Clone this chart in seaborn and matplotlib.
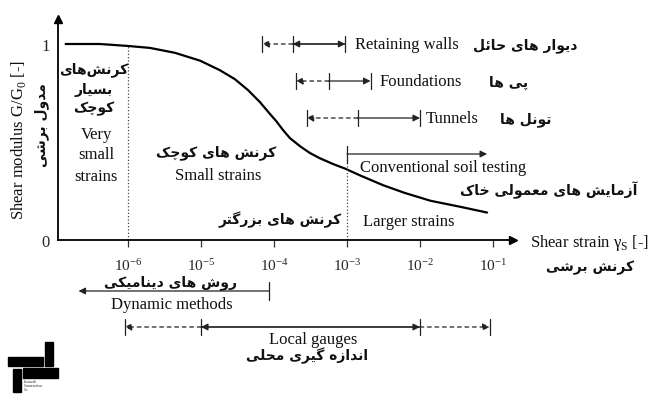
import numpy as np
import pandas as pd
import matplotlib.pyplot as plt
import seaborn as sns
from matplotlib.patches import Rectangle

# Degradation curve
strain = [1.4e-7, 4.1e-7, 1e-6, 2e-6, 4.4e-6, 9.7e-6, 1.8e-5, 2.9e-5, 4.4e-5,
          6.4e-5, 8.8e-5, 1.07e-4, 1.33e-4, 1.65e-4, 2.3e-4, 3.1e-4, 4.2e-4,
          6.4e-4, 9.3e-4, 1.5e-3, 3.1e-3, 6.2e-3, 1.4e-2, 3.5e-2, 8.3e-2]
modulus = [1.00, 1.00, 0.99, 0.98, 0.955, 0.915, 0.867, 0.821, 0.765,
           0.704, 0.643, 0.607, 0.561, 0.520, 0.477, 0.444, 0.418,
           0.388, 0.365, 0.33, 0.28, 0.24, 0.20, 0.17, 0.14]

xtick_values = [1e-6, 1e-5, 1e-4, 1e-3, 1e-2, 1e-1]
xtick_labels = ['$\\mathregular{10^{-6}}$', '$\\mathregular{10^{-5}}$', '$\\mathregular{10^{-4}}$',
                '$\\mathregular{10^{-3}}$', '$\\mathregular{10^{-2}}$', '$\\mathregular{10^{-1}}$']

# Application ranges: dashed start, solid start, end
app_names = ['Retaining walls', 'Foundations', 'Tunnels']
app_names_fa = ['دیوار های حائل', 'پی ها', 'تونل ها']
app_dashed_from = [6.9e-5, 2.0e-4, 2.8e-4]
app_solid_from = [1.8e-4, 5.6e-4, 1.4e-3]
app_to = [9.5e-4, 2.1e-3, 1.0e-2]

conventional_range = [1e-3, 8.3e-2]
dynamic_range = [2.1e-7, 8.5e-5]
local_gauges_range = [9e-7, 1e-5, 1e-2, 9e-2]

sns.set_style('white')
plt.rcParams['font.family'] = ['Liberation Serif', 'DejaVu Sans']

# Minimal Persian shaping (presentation forms, right-to-left)
FORMS = {
    '\u0627': (0xFE8D, 0xFE8E), '\u0622': (0xFE81, 0xFE82), '\u062F': (0xFEA9, 0xFEAA),
    '\u0631': (0xFEAD, 0xFEAE), '\u0632': (0xFEAF, 0xFEB0), '\u0648': (0xFEED, 0xFEEE),
    '\u0628': (0xFE8F, 0xFE90, 0xFE91, 0xFE92), '\u067E': (0xFB56, 0xFB57, 0xFB58, 0xFB59),
    '\u062A': (0xFE95, 0xFE96, 0xFE97, 0xFE98), '\u062D': (0xFEA1, 0xFEA2, 0xFEA3, 0xFEA4),
    '\u062E': (0xFEA5, 0xFEA6, 0xFEA7, 0xFEA8), '\u0686': (0xFB7A, 0xFB7B, 0xFB7C, 0xFB7D),
    '\u0633': (0xFEB1, 0xFEB2, 0xFEB3, 0xFEB4), '\u0634': (0xFEB5, 0xFEB6, 0xFEB7, 0xFEB8),
    '\u0639': (0xFEC9, 0xFECA, 0xFECB, 0xFECC), '\u06A9': (0xFB8E, 0xFB8F, 0xFB90, 0xFB91),
    '\u06AF': (0xFB92, 0xFB93, 0xFB94, 0xFB95), '\u0644': (0xFEDD, 0xFEDE, 0xFEDF, 0xFEE0),
    '\u0645': (0xFEE1, 0xFEE2, 0xFEE3, 0xFEE4), '\u0646': (0xFEE5, 0xFEE6, 0xFEE7, 0xFEE8),
    '\u0647': (0xFEE9, 0xFEEA, 0xFEEB, 0xFEEC), '\u06CC': (0xFBFC, 0xFBFD, 0xFBFE, 0xFBFF),
    '\u0626': (0xFE89, 0xFE8A, 0xFE8B, 0xFE8C),
}


def fa(s):
    s = s.replace('\u064A', '\u06CC').replace('\u0643', '\u06A9')
    out = []
    for i, c in enumerate(s):
        if c == '\u200c':
            continue
        if c not in FORMS:
            out.append(c)
            continue
        f = FORMS[c]
        prev = s[i - 1] if i > 0 else ''
        nxt = s[i + 1] if i < len(s) - 1 else ''
        jp = prev in FORMS and len(FORMS[prev]) == 4
        jn = len(f) == 4 and nxt in FORMS
        if jp and jn:
            g = f[3]
        elif jp:
            g = f[1]
        elif jn:
            g = f[2]
        else:
            g = f[0]
        out.append(chr(g))
    return ''.join(reversed(out))


W, H = 650, 406
fig = plt.figure(figsize=(6.5, 4.06), dpi=100)
ax = fig.add_axes([58 / W, 165 / H, (513 - 58) / W, 221 / H])


def px(x, y):
    return x / W, 1 - y / H


def yv(y):
    return (241 - y) / 196


EN = dict(family='Liberation Serif', fontsize=12, color='#111111')
FA = dict(family='DejaVu Sans', fontweight='bold', fontsize=10, color='#111111')

df = pd.DataFrame({'strain': strain, 'modulus': modulus})
sns.lineplot(data=df, x='strain', y='modulus', ax=ax, color='black', lw=1.6,
             estimator=None, sort=False)
ax.set_xscale('log')
ax.set_xlim(10 ** -6.959, 10 ** -0.726)
ax.set_ylim(0, 221 / 196)
ax.set_xlabel('')
ax.set_ylabel('')
for s in ['top', 'right']:
    ax.spines[s].set_visible(False)
for s in ['left', 'bottom']:
    ax.spines[s].set_linewidth(1.3)
    ax.spines[s].set_color('black')
ax.plot(1, 0, '>', color='black', ms=6, transform=ax.transAxes, clip_on=False)
ax.plot(0, 1, '^', color='black', ms=6, transform=ax.transAxes, clip_on=False)

ax.set_xticks(xtick_values)
ax.set_xticklabels(xtick_labels, fontsize=11)
ax.xaxis.set_minor_locator(plt.NullLocator())
ax.tick_params(axis='x', direction='out', length=5, width=0.9, color='#333333', pad=7,
               bottom=True)
ax.set_yticks([0, 1])
ax.set_yticklabels(['0', '1'], fontsize=12)
ax.tick_params(axis='y', length=0, pad=6)

# dotted guides
ax.plot([1e-6, 1e-6], [0, 0.99], ls=':', color='#444444', lw=0.9)
ax.plot([1e-3, 1e-3], [0, 0.41], ls=':', color='#444444', lw=0.9)

LW = 0.9
AC = '#222222'


def arrow(x1, x2, y, ls='-'):
    ax.annotate('', xy=(x2, y), xytext=(x1, y), xycoords='data', annotation_clip=False,
                arrowprops=dict(arrowstyle='-|>', lw=LW, color=AC, ls=ls,
                                shrinkA=0, shrinkB=0, mutation_scale=10))


def bar(x, y, h=8):
    ax.plot([x, x], [y - h / 196, y + h / 196], color=AC, lw=LW, clip_on=False)


app_rows = [45, 82, 119]
for i, yy in enumerate(app_rows):
    y = yv(yy)
    arrow(app_solid_from[i], app_dashed_from[i], y, ls=(0, (3, 3)))
    if i == 0:
        arrow(app_to[i], app_solid_from[i], y)
    arrow(app_solid_from[i], app_to[i], y)
    bar(app_dashed_from[i], y)
    bar(app_solid_from[i], y)
    bar(app_to[i], y)

app_text_x = [355, 380, 426]
app_fa_right = [577, 528, 552]
for i, yy in enumerate(app_rows):
    fig.text(*px(app_text_x[i], yy), app_names[i], ha='left', va='center', **EN)
    fig.text(*px(app_fa_right[i], yy + 1), fa(app_names_fa[i]), ha='right', va='center', **FA)

# conventional soil testing
y = yv(155)
arrow(conventional_range[0], conventional_range[1], y)
ax.plot([conventional_range[0]] * 2, [yv(147), yv(164)], color=AC, lw=LW, clip_on=False)

# dynamic methods (below the axis)
y = yv(292)
arrow(dynamic_range[1], dynamic_range[0], y)
bar(dynamic_range[1], y, h=9)

# local gauges
y = yv(328)
arrow(local_gauges_range[1], local_gauges_range[0], y, ls=(0, (3, 3)))
arrow(local_gauges_range[2], local_gauges_range[1], y)
arrow(local_gauges_range[1], local_gauges_range[2], y)
arrow(local_gauges_range[2], local_gauges_range[3], y, ls=(0, (3, 3)))
for xv in local_gauges_range:
    bar(xv, y)

# texts
fig.text(*px(360, 168), 'Conventional soil testing', ha='left', va='center', **EN)
fig.text(*px(637, 190), fa('آزمایش های معمولی خاک'), ha='right', va='center', **FA)
fig.text(*px(363, 222), 'Larger strains', ha='left', va='center', **EN)
fig.text(*px(342, 220), fa('کرنش های بزرگتر'), ha='right', va='center', **FA)
fig.text(*px(218, 176), 'Small strains', ha='center', va='center', **EN)
fig.text(*px(216, 153), fa('کرنش های کوچک'), ha='center', va='center', **FA)
for word, yy in zip(['Very', 'small', 'strains'], [135, 155, 177]):
    fig.text(*px(96, yy), word, ha='center', va='center', **EN)
for word, yy in zip(['کرنش\u200cهای', 'بسیار', 'کوچک'], [70, 90, 109]):
    fig.text(*px(94, yy), fa(word), ha='center', va='center', **FA)

fig.text(*px(530, 243), 'Shear strain γ${}_{\\mathregular{S}}$ [-]', ha='left', va='center', **EN)
fig.text(*px(590, 268), fa('کرنش برشی'), ha='center', va='center', **FA)
fig.text(*px(19, 140), 'Shear modulus G/G${}_{\\mathregular{0}}$ [-]', rotation=90,
         ha='center', va='center', **EN)
fig.text(*px(42, 125), fa('مدول برشی'), rotation=90, ha='center', va='center', **FA)

fig.text(*px(171, 283), fa('روش های دینامیکی'), ha='center', va='center', **FA)
fig.text(*px(172, 305), 'Dynamic methods', ha='center', va='center', **EN)
fig.text(*px(313, 340), 'Local gauges', ha='center', va='center', **EN)
fig.text(*px(307, 356), fa('اندازه گیری محلی'), ha='center', va='center', **FA)

# company logo, bottom left
for (x0, y0, x1, y1) in [(8, 358, 43, 367), (45, 343, 53, 367), (13, 370, 21, 393), (23, 369, 58, 379)]:
    fig.patches.append(Rectangle((x0 / W, 1 - y1 / H), (x1 - x0) / W, (y1 - y0) / H,
                                 transform=fig.transFigure, color='black'))
fig.text(*px(24, 386), 'Istasazeh\nConstruction\nCo.', ha='left', va='center',
         family='Liberation Serif', fontsize=2.6, linespacing=1.0)

plt.savefig('out.png', dpi=100)
plt.close()
